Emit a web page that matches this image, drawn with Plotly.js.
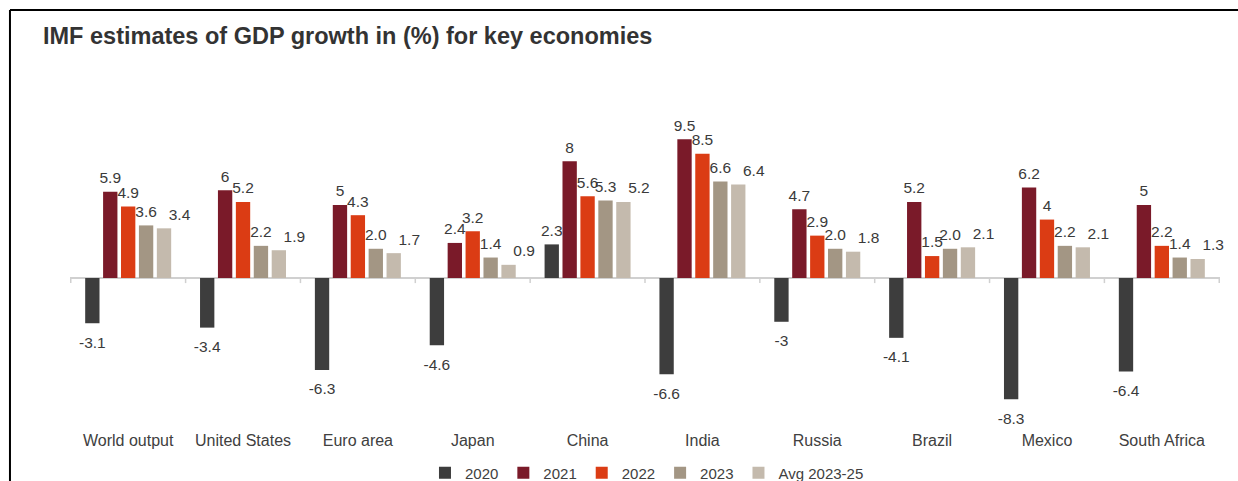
<!DOCTYPE html>
<html>
<head>
<meta charset="utf-8">
<script src="https://cdn.plot.ly/plotly-3.0.1.min.js"></script>
<style>
html,body{margin:0;padding:0;background:#fff;}
#chart{width:1238px;height:481px;}
</style>
</head>
<body>
<div id="chart"></div>
<script>
const categories = ["World output","United States","Euro area","Japan","China","India","Russia","Brazil","Mexico","South Africa"];
const seriesNames = ["2020","2021","2022","2023","Avg 2023-25"];
const v2020 = [-3.1,-3.4,-6.3,-4.6,2.3,-6.6,-3,-4.1,-8.3,-6.4];
const v2021 = [5.9,6,5,2.4,8,9.5,4.7,5.2,6.2,5];
const v2022 = [4.9,5.2,4.3,3.2,5.6,8.5,2.9,1.5,4,2.2];
const v2023 = [3.6,2.2,2.0,1.4,5.3,6.6,2.0,2.0,2.2,1.4];
const vAvg  = [3.4,1.9,1.7,0.9,5.2,6.4,1.8,2.1,2.1,1.3];
const seriesValues = [v2020,v2021,v2022,v2023,vAvg];
const decimals = [null,null,null,1,1];
const colors = ["#3d3d3d","#7a1a29","#db3c14","#a39684","#c4baad"];
const labelSide = ["center","center","center","center","right"];

const FONT = "Liberation Sans, Arial, sans-serif";
const barTraces = seriesNames.map((n,i)=>({
  type:"bar",
  name:n,
  x:categories,
  y:seriesValues[i],
  marker:{color:colors[i]},
  hoverinfo:"name+y"
}));
const labelTraces = seriesNames.map((n,i)=>({
  type:"scatter",
  mode:"markers+text",
  name:n+" labels",
  showlegend:false,
  x:categories,
  y:seriesValues[i],
  text:seriesValues[i].map(v=> decimals[i]===null ? String(v) : v.toFixed(decimals[i])),
  textposition:seriesValues[i].map(v=> (v<0?"bottom ":"top ")+labelSide[i]),
  marker:{size:seriesValues[i].map(v=> v<0?19:6),color:"rgba(0,0,0,0)",opacity:0,line:{width:0,color:"rgba(0,0,0,0)"}},
  cliponaxis:false,
  textfont:{family:FONT,size:15.5,color:"#3a3a3a"},
  hoverinfo:"skip"
}));

const shapes = [];
for(let i=0;i<=categories.length;i++){
  shapes.push({type:"line",xref:"x",yref:"y",x0:i-0.5,x1:i-0.5,y0:0,y1:-0.35,line:{color:"#d0d0d0",width:1.5}});
}
// frame
shapes.push({type:"line",xref:"paper",yref:"paper",x0:-0.0522,x1:1.02,y0:1.3607,y1:1.3607,line:{color:"#000",width:2}});
shapes.push({type:"line",xref:"paper",yref:"paper",x0:-0.0522,x1:-0.0522,y0:1.3607,y1:-0.19,line:{color:"#000",width:2}});

const layout = {
  width:1238,height:481,
  paper_bgcolor:"#fff",plot_bgcolor:"#fff",
  margin:{l:70,r:18,t:120,b:56,autoexpand:false},
  barmode:"group",
  bargap:0.22,
  bargroupgap:0.2,
  scattermode:"group",
  scattergap:0.22,
  title:{text:"<b>IMF estimates of GDP growth in (%) for key economies</b>",
    xref:"container",yref:"container",x:43/1238,xanchor:"left",y:1-36/481,yanchor:"middle",
    font:{family:FONT,size:23.5,color:"#333"}},
  xaxis:{type:"category",showline:false,ticks:"",showgrid:false,zeroline:false,automargin:false,
    ticklabelstandoff:4,
    tickfont:{family:FONT,size:16,color:"#404040"},
    fixedrange:true},
  yaxis:{range:[-10.07,10.82],showticklabels:false,showgrid:false,ticks:"",automargin:false,
    zeroline:true,zerolinecolor:"#d0d0d0",zerolinewidth:2,showline:false,fixedrange:true},
  showlegend:true,
  legend:{orientation:"h",xref:"container",yref:"container",x:0.5226,xanchor:"center",y:1-473/481,yanchor:"middle",
    font:{family:FONT,size:15,color:"#404040"},
    itemwidth:30,tracegroupgap:0},
  shapes:shapes
};
Plotly.newPlot("chart",barTraces.concat(labelTraces),layout,{displayModeBar:false,staticPlot:true});
</script>
</body>
</html>
